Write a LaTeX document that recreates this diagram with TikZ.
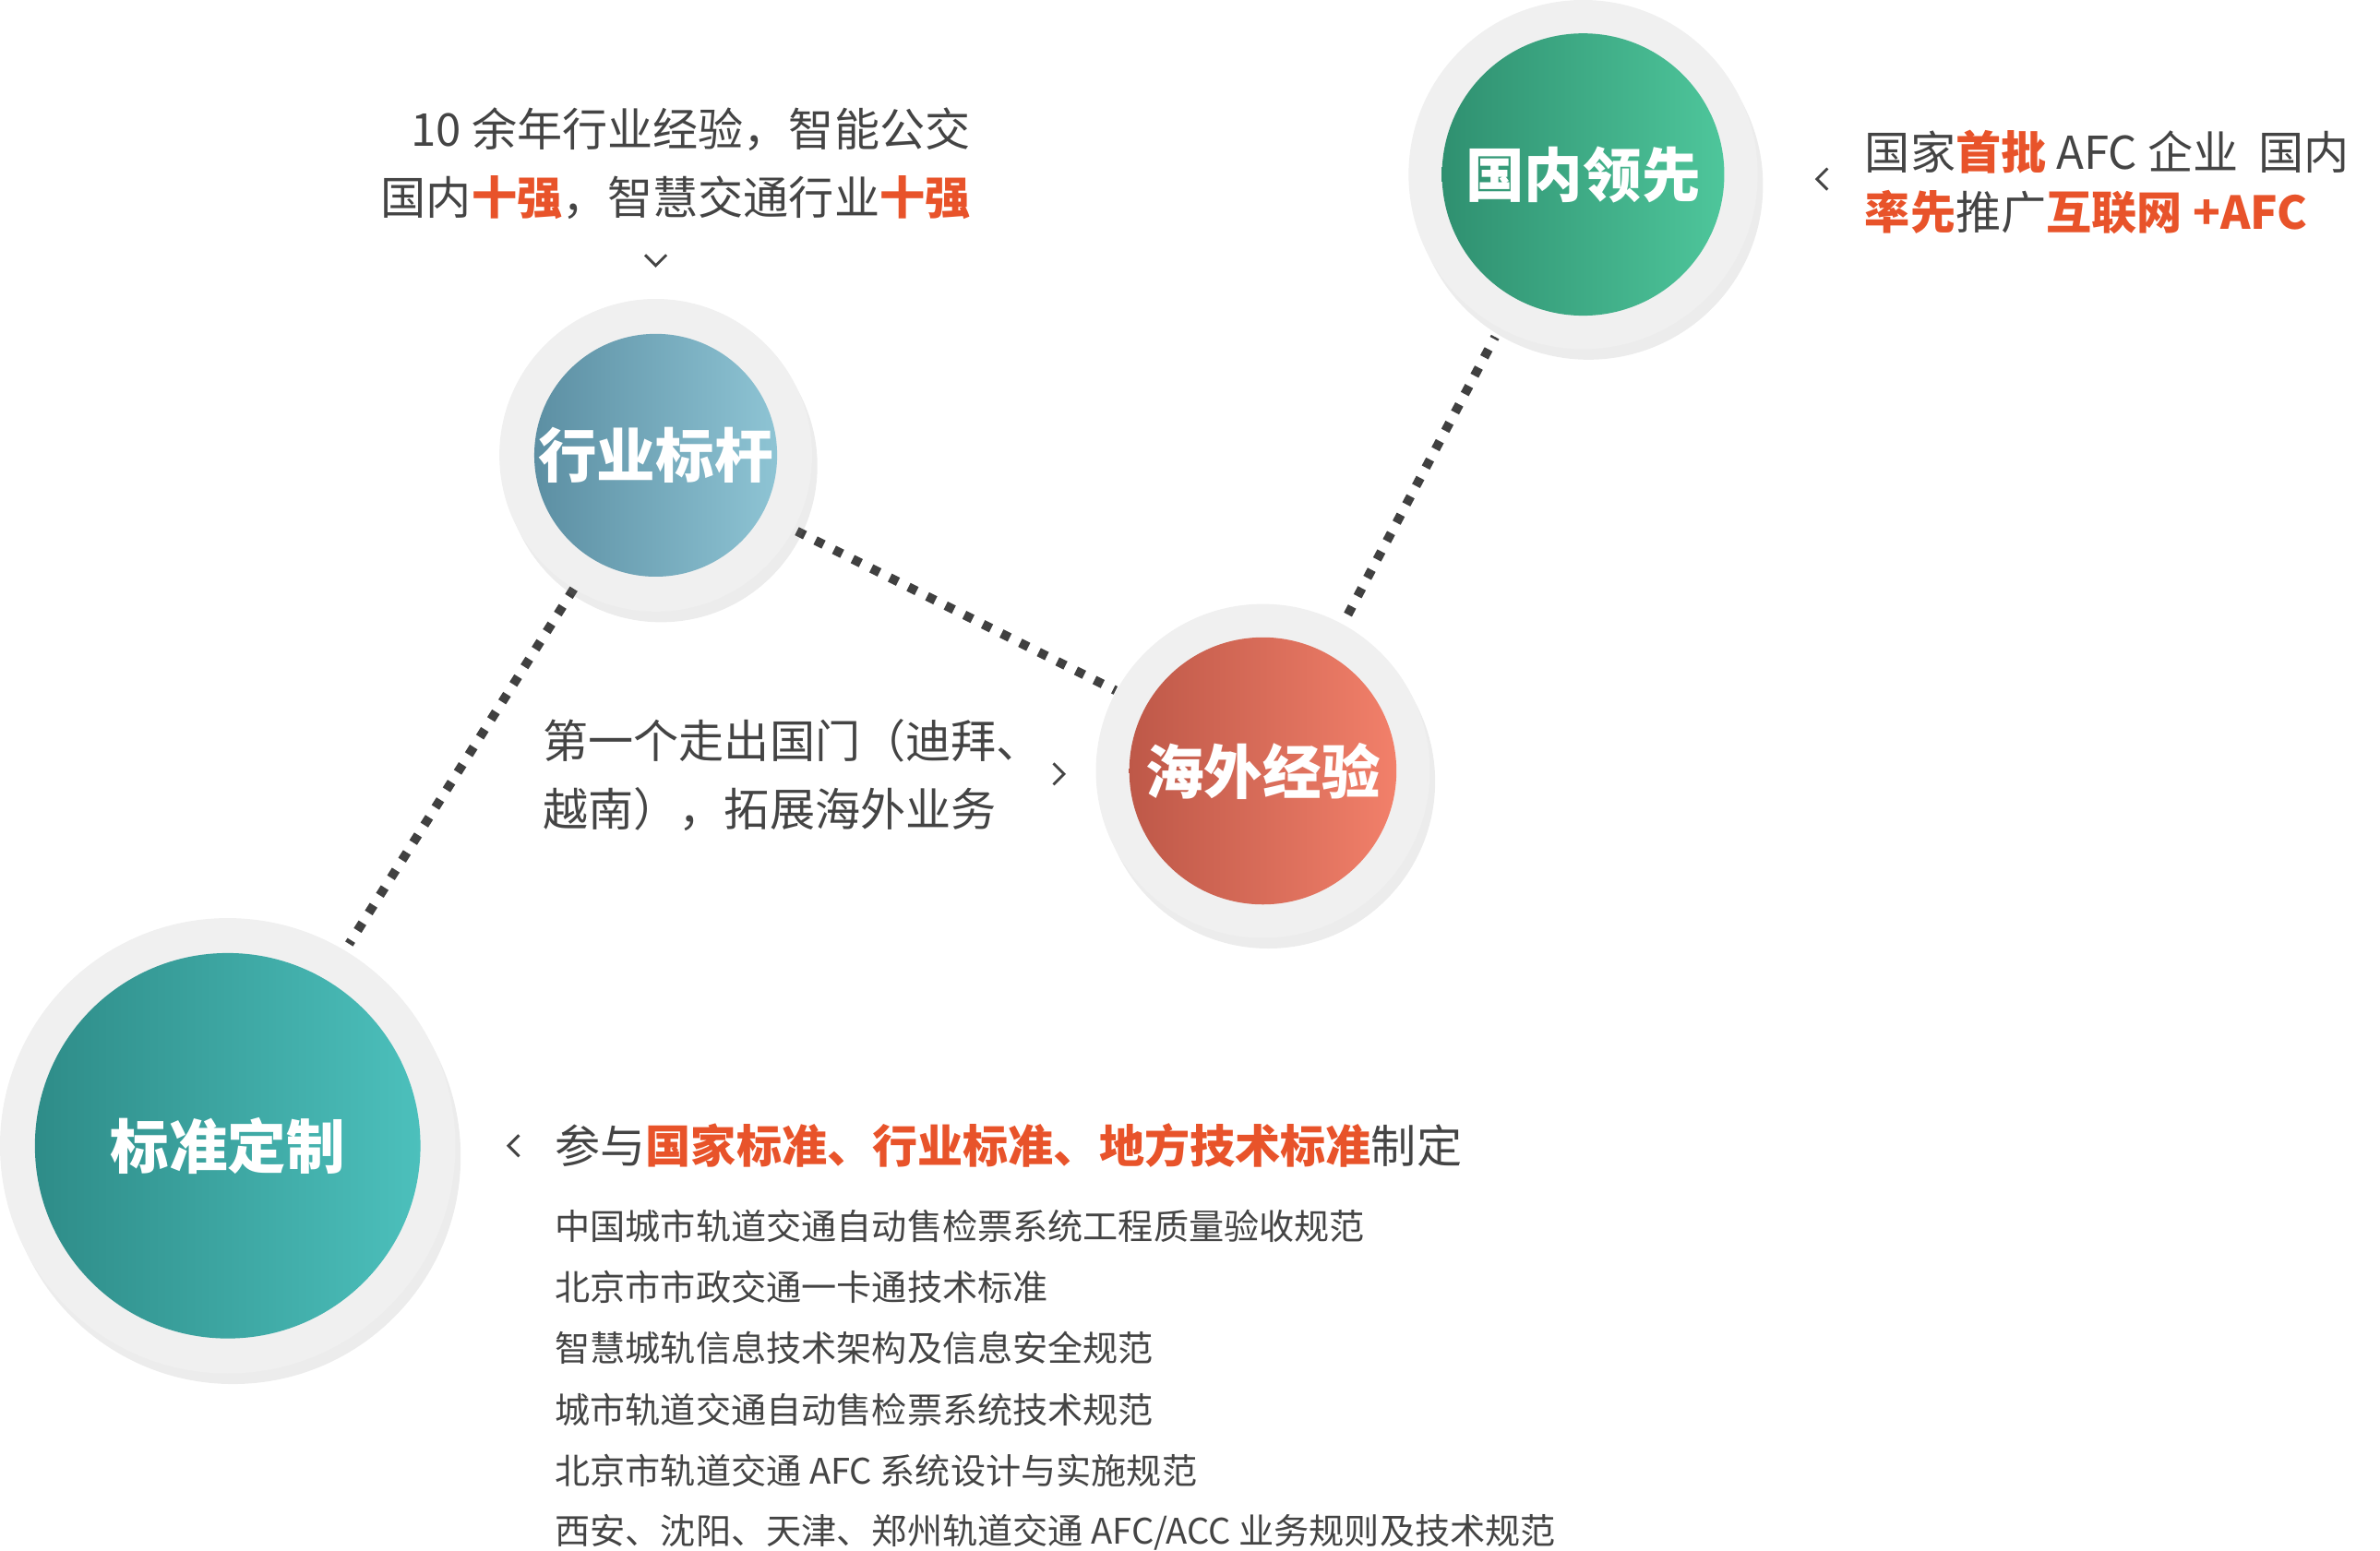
\documentclass[tikz,border=0pt]{standalone}
\usepackage{fontspec}
\setmainfont{Noto Sans CJK SC}
\usetikzlibrary{shadows}
\definecolor{tx}{HTML}{444444}
\definecolor{og}{HTML}{E8532A}
\begin{document}
\begin{tikzpicture}[x=0.1mm,y=-0.1mm,
 ring/.style={circle,fill=white!94!black,drop shadow={shadow xshift=1pt,shadow yshift=-2pt,opacity=0.15}},
 lab/.style={font=\fontsize{11}{13}\selectfont\bfseries,text=white},
 t/.style={text=tx,font=\fontsize{8.5}{10}\selectfont,inner sep=0},
 s/.style={text=tx,font=\fontsize{6.6}{8}\selectfont,inner sep=0,anchor=west},
 dot/.style={line width=1.7pt,dash pattern=on 1.7pt off 2.2pt,draw=black!75},
 chev/.style={draw=tx,line width=0.5pt}]
\useasboundingbox (0,0) rectangle (1568,1022);
\clip (0,0) rectangle (1568,1022);
% dotted connectors
\coordinate (a1) at (378,388); \coordinate (a2) at (230,622);
\coordinate (b1) at (525,350); \coordinate (b2) at (735,455);
\coordinate (c1) at (888,405); \coordinate (c2) at (985,222);
\draw[dot] (a1)--(a2); \draw[dot] (b1)--(b2); \draw[dot] (c1)--(c2);
% circles
\node[ring,minimum size=23mm] (gn) at (1043,115) {};
\node[circle,minimum size=18.6mm,shading angle=135,left color={rgb,255:red,47;green,144;blue,112},right color={rgb,255:red,78;green,198;blue,155}] (gni) at (1043,115) {};
\node[lab] at (gni) {国内领先};
\node[ring,minimum size=20.6mm] (hy) at (432,300) {};
\node[circle,minimum size=16mm,shading angle=135,left color={rgb,255:red,92;green,143;blue,163},right color={rgb,255:red,142;green,196;blue,212}] (hyi) at (432,300) {};
\node[lab] at (hyi) {行业标杆};
\node[ring,minimum size=22mm] (hw) at (832,508) {};
\node[circle,minimum size=17.6mm,shading angle=135,left color={rgb,255:red,190;green,88;blue,72},right color={rgb,255:red,242;green,128;blue,106}] (hwi) at (832,508) {};
\node[lab] at (hwi) {海外经验};
\node[ring,minimum size=30mm] (bz) at (150,755) {};
\node[circle,minimum size=25.4mm,shading angle=135,left color={rgb,255:red,46;green,140;blue,136},right color={rgb,255:red,76;green,192;blue,188}] (bzi) at (150,755) {};
\node[lab] at (bzi) {标准定制};
% top text
\node[t,anchor=east] (t1) at (640,85) {10 余年行业经验，智能公交};
\node[t,anchor=east] (t2) at (640,130) {国内\textcolor{og}{\bfseries 十强}，智慧交通行业\textcolor{og}{\bfseries 十强}};
\draw[chev] (425,168)--(432,175)--(439,168);
% right text
\node[t,anchor=west] (r1t) at (1228,100) {国家\textcolor{og}{\bfseries 首批} AFC 企业\ \ 国内};
\node[t,anchor=west] (r2t) at (1228,140) {\textcolor{og}{\bfseries 率先}推广\textcolor{og}{\bfseries 互联网 +AFC}};
\draw[chev] (1204,111)--(1197,118)--(1204,125);
% middle text
\node[t,anchor=west] (m1) at (357,488) {第一个走出国门（迪拜、};
\node[t,anchor=west] (m2) at (357,533) {越南），拓展海外业务};
\draw[chev] (694,503)--(701,510)--(694,517);
% bottom
\draw[chev] (342,748)--(335,755)--(342,762);
\node[t,anchor=west] (h) at (365,755) {参与\textcolor{og}{\bfseries 国家标准、行业标准、地方技术标准}制定};
\node[s] at (365,808) {中国城市轨道交通自动售检票系统工程质量验收规范};
\node[s] at (365,848) {北京市市政交通一卡通技术标准};
\node[s] at (365,888) {智慧城轨信息技术架构及信息安全规范};
\node[s] at (365,929) {城市轨道交通自动售检票系统技术规范};
\node[s] at (365,969) {北京市轨道交通 AFC 系统设计与实施规范};
\node[s] at (365,1010) {西安、沈阳、天津、郑州轨道交通 AFC/ACC 业务规则及技术规范};
\end{tikzpicture}
\end{document}
